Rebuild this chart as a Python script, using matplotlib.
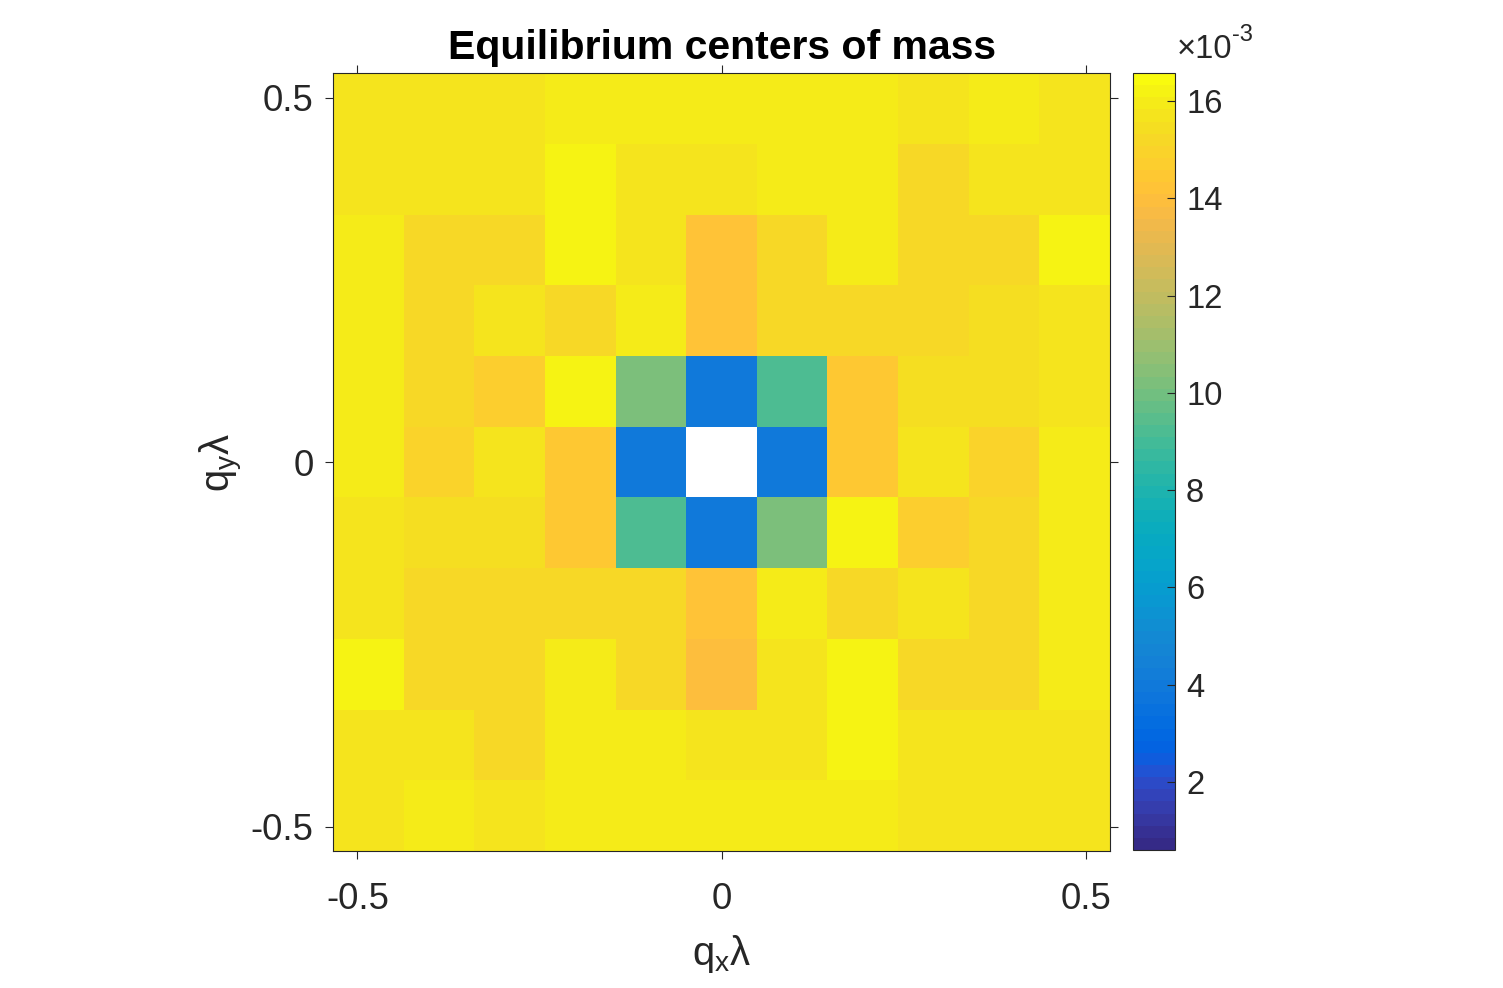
import numpy as np
import matplotlib.pyplot as plt
from matplotlib.colors import ListedColormap

plt.rcParams['font.family'] = ['Liberation Sans', 'DejaVu Sans']
plt.rcParams['mathtext.fontset'] = 'custom'
plt.rcParams['mathtext.rm'] = 'Liberation Sans'
plt.rcParams['mathtext.it'] = 'Liberation Sans:italic'

# MATLAB parula, 64 entries
parula = [
    [0.2081, 0.1663, 0.5292], [0.2116, 0.1898, 0.5777], [0.2123, 0.2138, 0.6270], [0.2081, 0.2386, 0.6771],
    [0.1959, 0.2645, 0.7279], [0.1707, 0.2919, 0.7792], [0.1253, 0.3242, 0.8303], [0.0591, 0.3598, 0.8683],
    [0.0117, 0.3875, 0.8820], [0.0060, 0.4086, 0.8828], [0.0165, 0.4266, 0.8786], [0.0329, 0.4430, 0.8720],
    [0.0498, 0.4586, 0.8641], [0.0629, 0.4737, 0.8554], [0.0723, 0.4887, 0.8467], [0.0779, 0.5040, 0.8384],
    [0.0793, 0.5200, 0.8312], [0.0749, 0.5375, 0.8263], [0.0641, 0.5570, 0.8240], [0.0488, 0.5772, 0.8228],
    [0.0343, 0.5966, 0.8199], [0.0265, 0.6137, 0.8135], [0.0239, 0.6287, 0.8038], [0.0231, 0.6418, 0.7913],
    [0.0228, 0.6535, 0.7768], [0.0267, 0.6642, 0.7607], [0.0384, 0.6743, 0.7436], [0.0590, 0.6838, 0.7254],
    [0.0843, 0.6928, 0.7062], [0.1133, 0.7015, 0.6859], [0.1453, 0.7098, 0.6646], [0.1801, 0.7177, 0.6424],
    [0.2178, 0.7250, 0.6193], [0.2586, 0.7317, 0.5954], [0.3022, 0.7376, 0.5712], [0.3482, 0.7424, 0.5473],
    [0.3953, 0.7459, 0.5244], [0.4420, 0.7481, 0.5033], [0.4871, 0.7491, 0.4840], [0.5300, 0.7491, 0.4661],
    [0.5709, 0.7485, 0.4494], [0.6099, 0.7473, 0.4337], [0.6473, 0.7456, 0.4188], [0.6834, 0.7435, 0.4044],
    [0.7184, 0.7411, 0.3905], [0.7525, 0.7384, 0.3768], [0.7858, 0.7356, 0.3633], [0.8185, 0.7327, 0.3498],
    [0.8507, 0.7299, 0.3360], [0.8824, 0.7274, 0.3217], [0.9139, 0.7258, 0.3063], [0.9450, 0.7261, 0.2886],
    [0.9739, 0.7314, 0.2666], [0.9938, 0.7455, 0.2403], [0.9990, 0.7653, 0.2164], [0.9955, 0.7861, 0.1967],
    [0.9880, 0.8066, 0.1794], [0.9789, 0.8271, 0.1633], [0.9697, 0.8481, 0.1475], [0.9626, 0.8705, 0.1309],
    [0.9589, 0.8949, 0.1132], [0.9598, 0.9218, 0.0948], [0.9661, 0.9514, 0.0755], [0.9763, 0.9831, 0.0538]]
cmap = ListedColormap(parula)

# grid of wavevectors (cell centres)
qx = np.linspace(-0.485, 0.485, 11)
qy = qx[::-1]  # rows listed top to bottom

# centre of mass values, units of 1e-3, rows from qy=+0.485 down to -0.485
nan = np.nan
com = np.array([
    [15.70, 15.70, 15.70, 15.95, 15.95, 15.95, 15.95, 15.95, 15.70, 15.95, 15.70],
    [15.70, 15.70, 15.70, 16.20, 15.70, 15.70, 15.95, 15.95, 15.20, 15.70, 15.70],
    [15.95, 15.20, 15.20, 16.20, 15.70, 14.20, 15.20, 15.95, 15.20, 15.20, 16.20],
    [15.95, 15.20, 15.70, 15.20, 15.95, 14.20, 15.20, 15.20, 15.20, 15.45, 15.70],
    [15.95, 15.20, 14.70, 16.20, 10.30, 3.97, 9.21, 14.45, 15.45, 15.45, 15.70],
    [15.95, 14.95, 15.70, 14.45, 3.97, nan, 3.97, 14.45, 15.70, 15.00, 15.95],
    [15.70, 15.45, 15.45, 14.45, 9.21, 3.97, 10.30, 16.20, 14.70, 15.20, 15.95],
    [15.70, 15.20, 15.20, 15.20, 15.20, 14.20, 15.95, 15.20, 15.70, 15.20, 15.95],
    [16.20, 15.20, 15.20, 15.95, 15.20, 13.95, 15.70, 16.20, 15.20, 15.20, 15.95],
    [15.70, 15.70, 15.20, 15.95, 15.95, 15.70, 15.70, 16.20, 15.70, 15.70, 15.70],
    [15.70, 15.95, 15.70, 15.95, 15.95, 15.95, 15.95, 15.95, 15.70, 15.70, 15.70],
])
clim = [0.60, 16.58]
cb_ticks = [2, 4, 6, 8, 10, 12, 14, 16]

dark = '#262626'
fig = plt.figure(figsize=(15.03, 9.88), dpi=100)
ax = fig.add_axes([0.2216, 0.1387, 0.5169, 0.7873])
cax = fig.add_axes([0.7538, 0.1397, 0.0279, 0.7864])

mesh = ax.pcolormesh(qx, qy, com, cmap=cmap, vmin=clim[0], vmax=clim[1], shading='nearest')
ax.set_xlim(-0.5335, 0.5335)
ax.set_ylim(-0.5335, 0.5335)
ax.set_xticks([-0.5, 0, 0.5])
ax.set_yticks([-0.5, 0, 0.5])
ax.set_xticklabels(['-0.5', '0', '0.5'])
ax.set_yticklabels(['-0.5', '0', '0.5'])
ax.tick_params(direction='out', length=6, width=0.8, colors=dark, labelsize=26.3,
               top=True, right=True, pad=8)
ax.tick_params(axis='x', pad=16)
for s in ax.spines.values():
    s.set_color(dark)
    s.set_linewidth(0.8)

ax.set_xlabel(r'q$_\mathrm{x}$λ', fontsize=28.9, color=dark, labelpad=12)
ax.set_ylabel(r'q$_\mathrm{y}$λ', fontsize=28.9, color=dark, labelpad=4)
ax.set_title('Equilibrium centers of mass', fontsize=29.5, fontweight='bold', pad=10)

cb = fig.colorbar(mesh, cax=cax, ticks=cb_ticks)
cb.ax.tick_params(direction='in', length=6, width=0.8, colors=dark, labelsize=23.6, pad=8)
cb.outline.set_edgecolor(dark)
cb.outline.set_linewidth(0.8)
cax.text(1.05, 1.01, '×10', transform=cax.transAxes,
         fontsize=23.6, color=dark, ha='left', va='bottom')
cax.text(2.35, 1.035, '-3', transform=cax.transAxes,
         fontsize=17, color=dark, ha='left', va='bottom')

fig.savefig('out.png', dpi=100)
